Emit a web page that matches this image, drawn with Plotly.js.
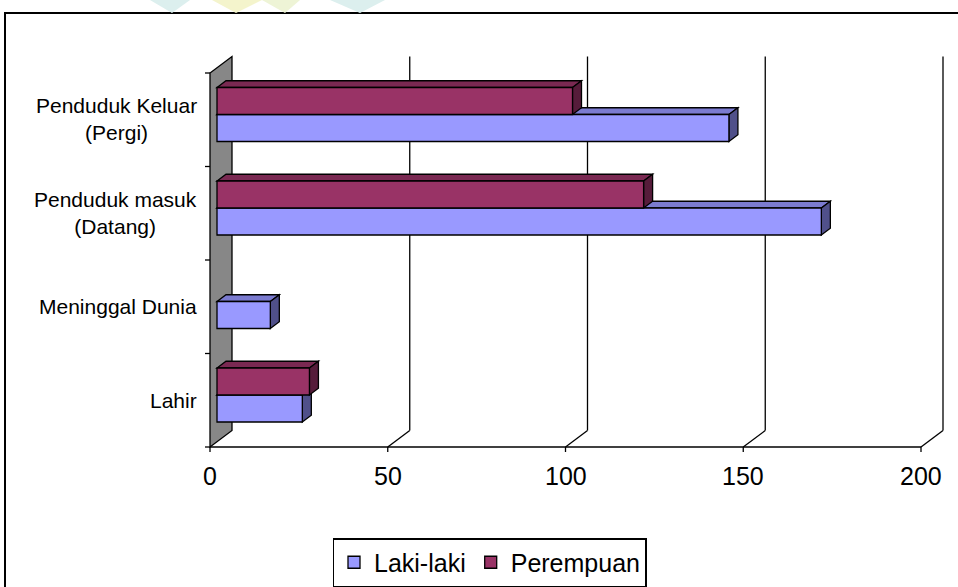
<!DOCTYPE html>
<html>
<head>
<meta charset="utf-8">
<script src="https://cdn.plot.ly/plotly-3.0.1.min.js"></script>
<style>html,body{margin:0;padding:0;background:#fff;}#chart{width:958px;height:587px;}</style>
</head>
<body>
<div id="chart"></div>
<script>
// ---- data ----
const categories = ["Lahir", "Meninggal Dunia", "Penduduk masuk (Datang)", "Penduduk Keluar (Pergi)"];
const categoryLabels = ["Lahir", "Meninggal Dunia", "Penduduk masuk<br>(Datang)", "Penduduk Keluar<br>(Pergi)"];
const lakiLaki = [24, 15, 170, 144];
const perempuan = [26, 0, 120, 100];
const seriesNames = ["Laki-laki", "Perempuan"];
const tickValues = [0, 50, 100, 150, 200];
const tickLabels = ["0", "50", "100", "150", "200"];

// ---- geometry / style ----
const W = 958, H = 587;
const X0PX = 217, XSCALE = 711 / 200;      // bar plane: px per unit
const YBOT = 441.75, YCAT = 93.5;           // bar plane bottom px, px per category
const L = 200, R = 950, T = 45, B = 453;    // plot area in px
const xRange = [(L - X0PX) / XSCALE, (R - X0PX) / XSCALE];
const yRange = [-0.5 + (YBOT - B) / YCAT, -0.5 + (YBOT - T) / YCAT];
const dx = px => px / XSCALE;
const dy = px => px / YCAT;   // positive = up
const FRONT = {x: dx(-7), y: dy(-5.25)};
const BACK = {x: dx(15), y: dy(11.25)};
const DEPTH = {x: dx(9), y: dy(6.75)};
const BARGAP = 0.4225;
const BW = (1 - BARGAP) / 2;
const FONT = "Liberation Sans, Arial, sans-serif";
const colors = {
  laki: {front: "#9999FF", top: "#7b7bd0", side: "#50508a"},
  perem: {front: "#993366", top: "#7a2952", side: "#561c3a"}
};

const shapes = [];
const line = (x0, y0, x1, y1, w) => shapes.push({type: "line", xref: "x", yref: "y", x0, y0, x1, y1, layer: "below", line: {color: "#000", width: w || 1.3}});
const poly = (pts, fill) => shapes.push({type: "path", xref: "x", yref: "y", layer: "below",
  path: "M" + pts.map(p => p[0] + "," + p[1]).join("L") + "Z", fillcolor: fill, line: {color: "#000", width: 1.3}});

// chart border (paper)
shapes.push({type: "rect", xref: "paper", yref: "paper", x0: 5 / W, x1: 1.05, y0: -0.05, y1: 1 - 13 / H, layer: "below", line: {color: "#000", width: 2}, fillcolor: "rgba(0,0,0,0)"});
// faint watermark at top
const wm = [[[150,0],[190,0],[172,13]], [[212,0],[262,0],[236,13]], [[262,0],[300,0],[285,13]], [[330,0],[385,0],[360,13]]];
const wmc = ["#dcefee", "#f4f4cc", "#eef4d6", "#dcefee"];
wm.forEach((t, i) => shapes.push({type: "path", xref: "paper", yref: "paper", layer: "below", line: {width: 0}, fillcolor: wmc[i],
  path: "M" + t.map(p => (p[0] / W) + "," + (1 - p[1] / H)).join("L") + "Z"}));

const yb = -0.5, yt = categories.length - 0.5;
// left gray wall
poly([[FRONT.x, yb + FRONT.y], [FRONT.x, yt + FRONT.y], [BACK.x, yt + BACK.y], [BACK.x, yb + BACK.y]], "#878787");
// back wall gridlines and floor diagonals
tickValues.forEach(v => {
  if (v > 0) {
    line(v + BACK.x, yb + BACK.y, v + BACK.x, yt + BACK.y);
    line(v + FRONT.x, yb + FRONT.y, v + BACK.x, yb + BACK.y);
  }
  // x tick marks (front)
  line(v + FRONT.x, yb + FRONT.y, v + FRONT.x, yb + FRONT.y - dy(5));
});
// front baseline
line(FRONT.x, yb + FRONT.y, tickValues[tickValues.length - 1] + FRONT.x, yb + FRONT.y);
// y tick marks (front)
for (let i = 0; i <= categories.length; i++) {
  const yy = i - 0.5 + FRONT.y;
  line(FRONT.x - dx(5), yy, FRONT.x, yy);
}
// 3D faces of bars
function faces(values, off, c) {
  values.forEach((v, i) => {
    if (!v) return;
    const bot = i + off, top = i + off + BW;
    poly([[0, top], [v, top], [v + DEPTH.x, top + DEPTH.y], [DEPTH.x, top + DEPTH.y]], c.top);
    poly([[v, top], [v + DEPTH.x, top + DEPTH.y], [v + DEPTH.x, bot + DEPTH.y], [v, bot]], c.side);
  });
}
faces(lakiLaki, -BW, colors.laki);
faces(perempuan, 0, colors.perem);

const annotations = [];
categories.forEach((c, i) => annotations.push({
  xref: "paper", yref: "y", x: 199 / W, y: i, yshift: -5, xanchor: "right", yanchor: "middle",
  align: "center", text: categoryLabels[i], showarrow: false, font: {family: FONT, size: 21, color: "#000"}
}));
tickValues.forEach((v, i) => annotations.push({
  xref: "x", yref: "paper", x: v, y: 1 - 476 / H, xshift: -7, xanchor: "center", yanchor: "middle",
  text: tickLabels[i], showarrow: false, font: {family: FONT, size: 25, color: "#000"}
}));

const outline = vals => vals.map(v => (v ? 1.3 : 0));
const traces = [
  {type: "bar", orientation: "h", name: seriesNames[0], y: categories, x: lakiLaki,
   marker: {color: colors.laki.front, line: {color: "#000", width: outline(lakiLaki)}}, hoverinfo: "none"},
  {type: "bar", orientation: "h", name: seriesNames[1], y: categories, x: perempuan,
   marker: {color: colors.perem.front, line: {color: "#000", width: outline(perempuan)}}, hoverinfo: "none"}
];

const layout = {
  width: W, height: H,
  margin: {l: 0, r: 0, t: 0, b: 0, pad: 0},
  paper_bgcolor: "#fff", plot_bgcolor: "rgba(0,0,0,0)",
  barmode: "group", bargap: BARGAP, bargroupgap: 0,
  font: {family: FONT, color: "#000"},
  xaxis: {domain: [L / W, R / W], range: xRange, showgrid: false, zeroline: false, showline: false,
          showticklabels: false, ticks: "", fixedrange: true},
  yaxis: {domain: [1 - B / H, 1 - T / H], range: yRange, type: "category",
          categoryorder: "array", categoryarray: categories,
          showgrid: false, zeroline: false, showline: false, showticklabels: false, ticks: "", fixedrange: true},
  showlegend: true,
  legend: {orientation: "h", x: 489.5 / W, xanchor: "center", y: 1 - 538 / H, yanchor: "top",
           bordercolor: "#000", borderwidth: 1.5, bgcolor: "#fff", font: {family: FONT, size: 25, color: "#000"},
           traceorder: "normal"},
  shapes, annotations, hovermode: false
};

Plotly.newPlot("chart", traces, layout, {displayModeBar: false, staticPlot: true});
</script>
</body>
</html>
